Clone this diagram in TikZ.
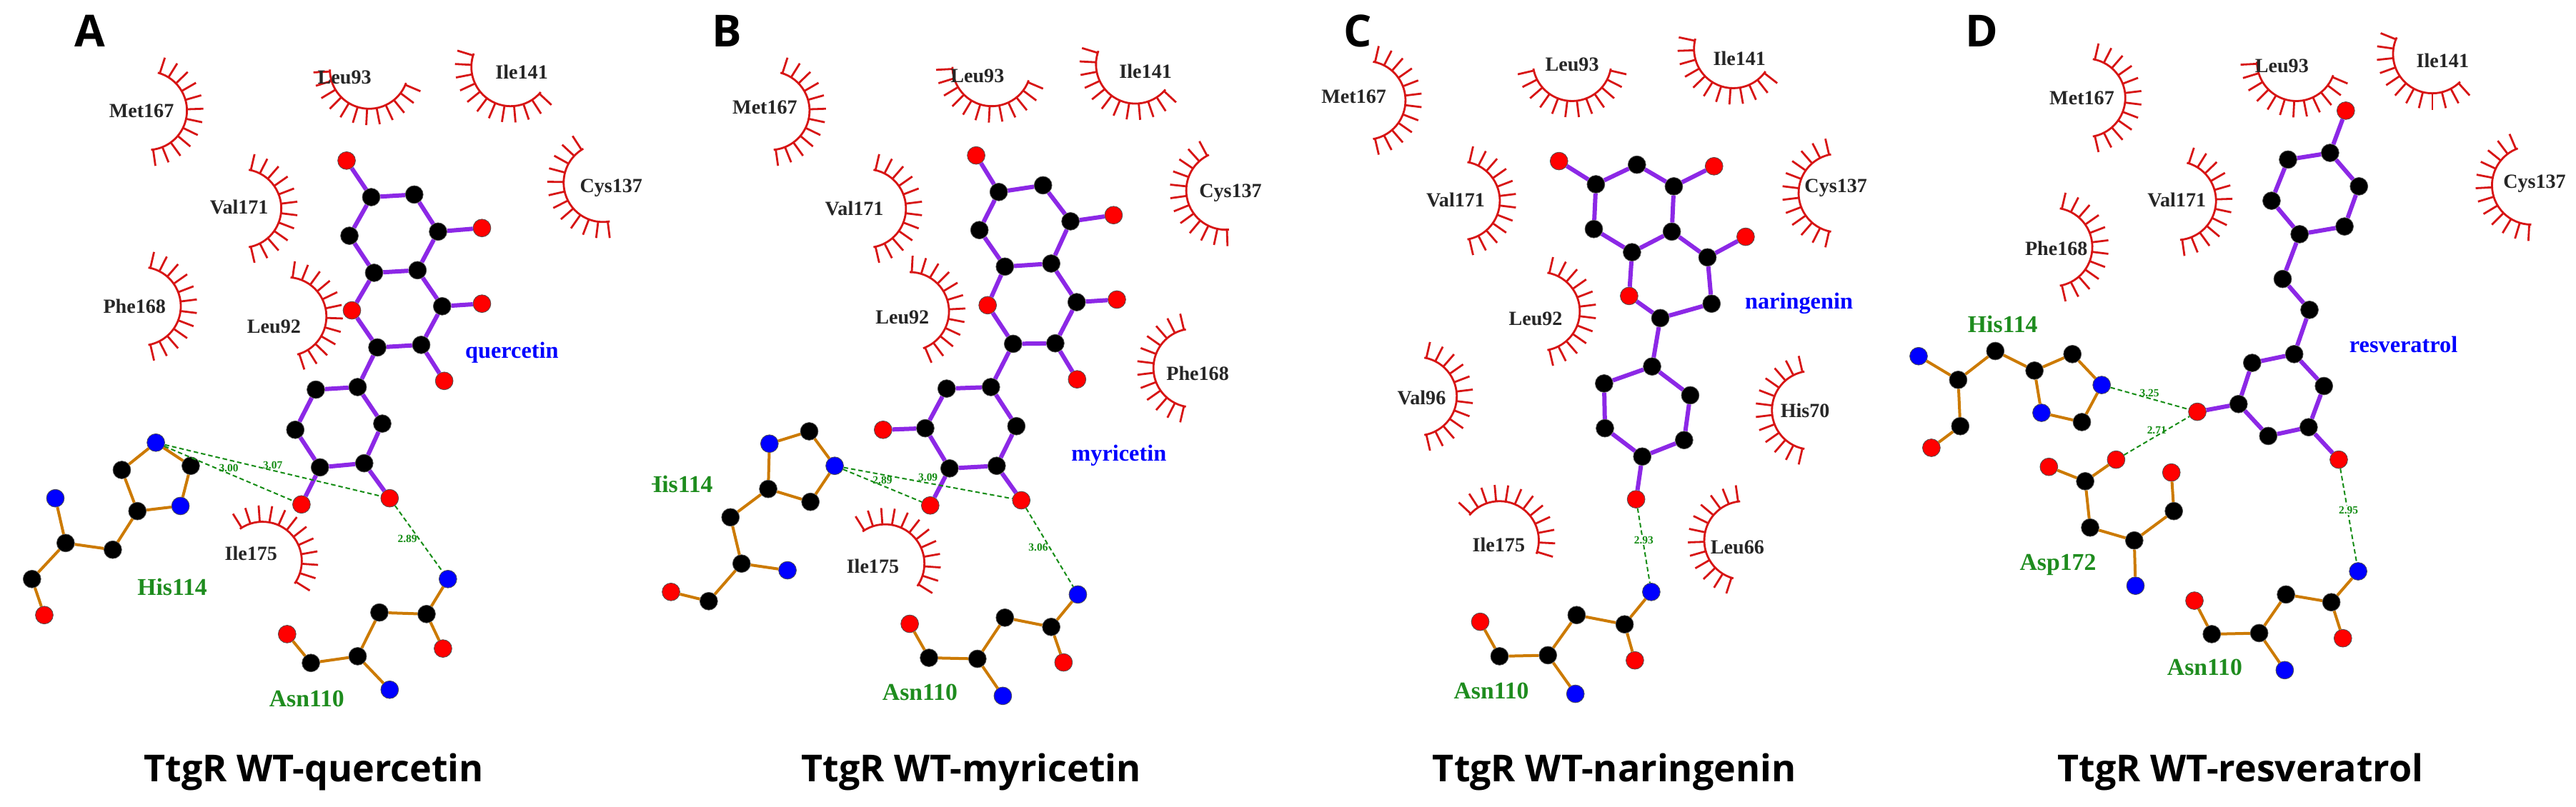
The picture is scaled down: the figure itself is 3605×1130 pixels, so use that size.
\documentclass[tikz,border=0pt]{standalone}
\usepackage{fontspec}
\setmainfont{Liberation Serif}
\newfontfamily\ttlfont{Open Sans}
\begin{document}
\begin{tikzpicture}[x=0.25mm,y=-0.25mm,
  atom/.style={circle,draw=black!70,line width=0.2mm,minimum size=6.2mm,inner sep=0pt},
  C/.style={atom,fill=black},
  O/.style={atom,fill=red},
  N/.style={atom,fill=blue},
  lig/.style={line width=1.5mm,draw={rgb,255:red,140;green,40;blue,230}},
  res/.style={line width=1mm,draw={rgb,255:red,204;green,122;blue,0}},
  hb/.style={line width=0.5mm,dashed,draw={rgb,255:red,20;green,140;blue,20},dash pattern=on 1.6mm off 1mm},
  dist/.style={font=\bfseries\fontsize{11}{11}\selectfont,text={rgb,255:red,20;green,140;blue,20},inner sep=1pt,above},
  eyec/.style={line width=0.7mm,draw={rgb,255:red,215;green,20;blue,20}},
  rlab/.style={font=\bfseries\fontsize{20}{20}\selectfont,text=black!85},
  glab/.style={font=\bfseries\fontsize{24}{24}\selectfont,text={rgb,255:red,30;green,140;blue,30}},
  blab/.style={font=\bfseries\fontsize{23}{23}\selectfont,text=blue},
  ttl/.style={font=\ttlfont\bfseries\fontsize{37}{37}\selectfont},
  plab/.style={font=\ttlfont\bfseries\fontsize{44}{44}\selectfont}]
\newcommand\at[3]{\node[#2] (#1) at #3 {};}
\newcommand\eye[2]{\path #1 coordinate (ec);
  \begin{scope}[reset cm,shift={(ec)}]
  \draw[eyec] (#2-80:55) arc[start angle=#2-80,end angle=#2+80,radius=55];
  \foreach \a in {-77,-63,...,77} \draw[eyec] (#2+\a:55) -- (#2+\a:78);
  \end{scope}}
\useasboundingbox[fill=white] (0,0) rectangle (3605,1130);
% ================= A =================
\begin{scope}[shift={(0,0)},xscale=0.574,yscale=0.7207]
\node[plab] (tA) at (220,60) {A};
\node[ttl] (ttA) at (765,1500) {TtgR WT-quercetin};
\eye{(360,215)}{5}\node[rlab] (aMet) at (345,215) {Met167};
\eye{(900,135)}{100}\node[rlab] (aL93) at (840,150) {Leu93};
\eye{(1245,130)}{120}\node[rlab] (aI141) at (1272,140) {Ile141};
\eye{(1470,355)}{160}\node[rlab] (aC137) at (1490,365) {Cys137};
\eye{(590,405)}{0}\node[rlab] (aV171) at (583,403) {Val171};
\eye{(345,595)}{0}\node[rlab] (aF168) at (328,595) {Phe168};
\eye{(700,615)}{-5}\node[rlab] (aL92) at (668,635) {Leu92};
\eye{(640,1090)}{-45}\node[rlab] (aI175) at (612,1075) {Ile175};
\at{aO1}{O}{(845,312)}\at{aC1}{C}{(905,383)}\at{aC2}{C}{(1010,378)}\at{aC3}{C}{(1068,450)}
\at{aO2}{O}{(1175,443)}\at{aC4}{C}{(852,458)}\at{aC5}{C}{(912,530)}\at{aC6}{C}{(1018,525)}
\at{aO3}{O}{(858,603)}\at{aC7}{C}{(1078,595)}\at{aO4}{O}{(1175,590)}\at{aC8}{C}{(920,675)}
\at{aC9}{C}{(1027,670)}\at{aO5}{O}{(1083,740)}\at{aC10}{C}{(872,752)}\at{aC11}{C}{(770,757)}
\at{aC12}{C}{(720,835)}\at{aC13}{C}{(932,823)}\at{aC14}{C}{(780,908)}\at{aC15}{C}{(888,900)}
\at{aO6}{O}{(735,980)}\at{aO7}{O}{(950,968)}
\draw[lig] (aO1)--(aC1)--(aC2)--(aC3)--(aO2) (aC1)--(aC4)--(aC5)--(aC6)--(aC3) (aC5)--(aO3)--(aC8)--(aC9)--(aC7)--(aC6)
 (aC7)--(aO4) (aC9)--(aO5) (aC8)--(aC10)--(aC11)--(aC12)--(aC14)--(aC15)--(aC13)--(aC10) (aC14)--(aO6) (aC15)--(aO7);
\at{aHN1}{N}{(380,860)}\at{aHC1}{C}{(465,905)}\at{aHN2}{N}{(440,983)}\at{aHC2}{C}{(335,993)}\at{aHC3}{C}{(297,913)}
\at{aHC4}{C}{(275,1068)}\at{aHCa}{C}{(160,1055)}\at{aHN}{N}{(135,968)}\at{aHC5}{C}{(78,1125)}\at{aHO}{O}{(108,1195)}
\draw[res] (aHN1)--(aHC1)--(aHN2)--(aHC2)--(aHC3)--(aHN1) (aHC2)--(aHC4)--(aHCa)--(aHN) (aHCa)--(aHC5)--(aHO);
\at{aAN}{N}{(1092,1125)}\at{aAC1}{C}{(1040,1193)}\at{aAO}{O}{(1080,1260)}\at{aAC2}{C}{(925,1190)}
\at{aACa}{C}{(872,1275)}\at{aAN2}{N}{(950,1340)}\at{aAC3}{C}{(758,1288)}\at{aAO2}{O}{(700,1232)}
\draw[res] (aAN)--(aAC1)--(aAC2)--(aACa)--(aAC3)--(aAO2) (aAC1)--(aAO) (aACa)--(aAN2);
\draw[hb] (aHN1)--node[dist]{3.00}(aO6);
\draw[hb] (aHN1)--node[dist,pos=0.5]{3.07}(aO7);
\draw[hb] (aO7)--node[dist,left]{2.89}(aAN);
\node[glab] (aHl) at (420,1140) {His114};
\node[glab] (aAl) at (748,1357) {Asn110};
\node[blab] (aLl) at (1248,685) {quercetin};
\end{scope}
% ================= B =================
\begin{scope}[shift={(900,0)},xscale=0.574,yscale=0.7207]
\clip (22,0) rectangle (1568,1568);
\node[plab] (tB) at (205,60) {B};
\node[ttl] (ttB) at (800,1500) {TtgR WT-myricetin};
\eye{(310,215)}{5}\node[rlab] (bMet) at (297,208) {Met167};
\eye{(850,130)}{100}\node[rlab] (bL93) at (815,148) {Leu93};
\eye{(1200,125)}{120}\node[rlab] (bI141) at (1225,138) {Ile141};
\eye{(1420,370)}{165}\node[rlab] (bC137) at (1432,375) {Cys137};
\eye{(545,405)}{0}\node[rlab] (bV171) at (515,405) {Val171};
\eye{(650,605)}{-10}\node[rlab] (bL92) at (632,617) {Leu92};
\eye{(1340,715)}{180}\node[rlab] (bF168) at (1352,725) {Phe168};
\eye{(590,1095)}{-45}\node[rlab] (bI175) at (560,1100) {Ile175};
\at{bO1}{O}{(812,302)}\at{bC1}{C}{(867,373)}\at{bC2}{C}{(975,360)}\at{bC3}{C}{(1042,430)}
\at{bO2}{O}{(1147,418)}\at{bC4}{C}{(820,447)}\at{bC5}{C}{(882,518)}\at{bC6}{C}{(995,512)}
\at{bO3}{O}{(840,593)}\at{bC7}{C}{(1057,587)}\at{bO4}{O}{(1155,582)}\at{bC8}{C}{(902,668)}
\at{bC9}{C}{(1005,667)}\at{bO5}{O}{(1058,737)}\at{bC10}{C}{(848,752)}\at{bC11}{C}{(740,755)}
\at{bC12}{C}{(688,832)}\at{bO6}{O}{(585,835)}\at{bC13}{C}{(910,828)}\at{bC14}{C}{(747,910)}
\at{bC15}{C}{(862,905)}\at{bO7}{O}{(700,982)}\at{bO8}{O}{(922,972)}
\draw[lig] (bO1)--(bC1)--(bC2)--(bC3)--(bO2) (bC1)--(bC4)--(bC5)--(bC6)--(bC3) (bC5)--(bO3)--(bC8)--(bC9)--(bC7)--(bC6)
 (bC7)--(bO4) (bC9)--(bO5) (bC8)--(bC10)--(bC11)--(bC12)--(bC14)--(bC15)--(bC13)--(bC10) (bC12)--(bO6) (bC14)--(bO7) (bC15)--(bO8);
\at{bHN1}{N}{(467,905)}\at{bHC1}{C}{(405,838)}\at{bHN2}{N}{(308,862)}\at{bHC2}{C}{(305,950)}\at{bHC3}{C}{(408,975)}
\at{bHC4}{C}{(213,1005)}\at{bHCa}{C}{(240,1095)}\at{bHN}{N}{(352,1108)}\at{bHC5}{C}{(160,1168)}\at{bHO}{O}{(68,1150)}
\draw[res] (bHN1)--(bHC1)--(bHN2)--(bHC2)--(bHC3)--(bHN1) (bHC2)--(bHC4)--(bHCa)--(bHN) (bHCa)--(bHC5)--(bHO);
\at{bAN}{N}{(1060,1155)}\at{bAC1}{C}{(995,1218)}\at{bAO}{O}{(1025,1287)}\at{bAC2}{C}{(882,1200)}
\at{bACa}{C}{(815,1280)}\at{bAN2}{N}{(877,1352)}\at{bAC3}{C}{(697,1278)}\at{bAO2}{O}{(650,1212)}
\draw[res] (bAN)--(bAC1)--(bAC2)--(bACa)--(bAC3)--(bAO2) (bAC1)--(bAO) (bACa)--(bAN2);
\draw[hb] (bHN1)--node[dist]{2.89}(bO7);
\draw[hb] (bHN1)--node[dist]{3.09}(bO8);
\draw[hb] (bO8)--node[dist,left]{3.06}(bAN);
\node[glab] (bHl) at (85,940) {His114};
\node[glab] (bAl) at (675,1345) {Asn110};
\node[blab] (bLl) at (1160,885) {myricetin};
\end{scope}
% ================= C =================
\begin{scope}[shift={(1800,0)},xscale=0.574,yscale=0.7207]
\node[plab] (tC) at (175,60) {C};
\node[ttl] (ttC) at (800,1500) {TtgR WT-naringenin};
\eye{(195,195)}{0}\node[rlab] (cMet) at (165,188) {Met167};
\eye{(697,120)}{90}\node[rlab] (cL93) at (697,125) {Leu93};
\eye{(1090,95)}{115}\node[rlab] (cI141) at (1105,113) {Ile141};
\eye{(1345,375)}{180}\node[rlab] (cC137) at (1340,365) {Cys137};
\eye{(425,390)}{0}\node[rlab] (cV171) at (413,388) {Val171};
\eye{(620,605)}{0}\node[rlab] (cL92) at (608,620) {Leu92};
\eye{(320,770)}{0}\node[rlab] (cV96) at (330,773) {Val96};
\eye{(1280,797)}{180}\node[rlab] (cH70) at (1265,798) {His70};
\eye{(520,1050)}{-60}\node[rlab] (cI175) at (518,1058) {Ile175};
\eye{(1115,1050)}{185}\node[rlab] (cL66) at (1100,1063) {Leu66};
\at{cO1}{O}{(665,313)}\at{cC1}{C}{(755,358)}\at{cC2}{C}{(855,320)}\at{cC3}{C}{(945,362)}
\at{cO2}{O}{(1043,323)}\at{cC4}{C}{(750,445)}\at{cC5}{C}{(843,490)}\at{cC6}{C}{(940,450)}
\at{cC7}{C}{(1027,500)}\at{cO3}{O}{(1120,460)}\at{cO4}{O}{(836,575)}\at{cC8}{C}{(1037,590)}
\at{cC9}{C}{(912,618)}\at{cC10}{C}{(892,712)}\at{cC11}{C}{(775,745)}\at{cC12}{C}{(985,768)}
\at{cC13}{C}{(777,832)}\at{cC14}{C}{(970,855)}\at{cC15}{C}{(868,887)}\at{cO5}{O}{(853,970)}
\draw[lig] (cO1)--(cC1)--(cC2)--(cC3)--(cO2) (cC1)--(cC4)--(cC5)--(cC6)--(cC3) (cC6)--(cC7)--(cO3) (cC5)--(cO4)--(cC9)--(cC8)--(cC7)
 (cC9)--(cC10)--(cC11)--(cC13)--(cC15)--(cC14)--(cC12)--(cC10) (cC15)--(cO5);
\at{cAN}{N}{(890,1150)}\at{cAC1}{C}{(825,1213)}\at{cAO}{O}{(850,1283)}\at{cAC2}{C}{(708,1195)}
\at{cACa}{C}{(638,1273)}\at{cAN2}{N}{(705,1348)}\at{cAC3}{C}{(520,1275)}\at{cAO2}{O}{(473,1208)}
\draw[res] (cAN)--(cAC1)--(cAC2)--(cACa)--(cAC3)--(cAO2) (cAC1)--(cAO) (cACa)--(cAN2);
\draw[hb] (cO5)--node[dist,fill=white]{2.93}(cAN);
\node[glab] (cAl) at (500,1342) {Asn110};
\node[blab] (cLl) at (1250,590) {naringenin};
\end{scope}
% ================= D =================
\begin{scope}[shift={(2700,0)},xscale=0.577,yscale=0.7207]
\node[plab] (tD) at (128,60) {D};
\node[ttl] (ttD) at (755,1500) {TtgR WT-resveratrol};
\eye{(380,190)}{0}\node[rlab] (dMet) at (370,190) {Met167};
\eye{(890,120)}{100}\node[rlab] (dL93) at (855,128) {Leu93};
\eye{(1220,105)}{125}\node[rlab] (dI141) at (1245,118) {Ile141};
\eye{(1460,360)}{170}\node[rlab] (dC137) at (1468,357) {Cys137};
\eye{(600,390)}{5}\node[rlab] (dV171) at (600,388) {Val171};
\eye{(300,480)}{0}\node[rlab] (dF168) at (308,483) {Phe168};
\at{dO1}{O}{(1010,215)}\at{dC1}{C}{(972,297)}\at{dC2}{C}{(870,310)}\at{dC3}{C}{(1042,362)}
\at{dC4}{C}{(830,390)}\at{dC5}{C}{(1007,440)}\at{dC6}{C}{(898,455)}\at{dC7}{C}{(857,542)}
\at{dC8}{C}{(922,602)}\at{dC9}{C}{(885,688)}\at{dC10}{C}{(783,705)}\at{dC11}{C}{(957,750)}
\at{dC12}{C}{(750,785)}\at{dO2}{O}{(650,800)}\at{dC13}{C}{(920,830)}\at{dC14}{C}{(822,847)}\at{dO3}{O}{(993,893)}
\draw[lig] (dO1)--(dC1)--(dC2)--(dC4)--(dC6)--(dC5)--(dC3)--(dC1) (dC6)--(dC7)--(dC8)--(dC9)--(dC10)--(dC12)--(dC14)--(dC13)--(dC11)--(dC9)
 (dC12)--(dO2) (dC13)--(dO3);
\at{dHC1}{C}{(255,720)}\at{dHC2}{C}{(347,688)}\at{dHN1}{N}{(418,748)}\at{dHC3}{C}{(370,820)}\at{dHN2}{N}{(272,802)}
\at{dHC4}{C}{(160,682)}\at{dHCa}{C}{(70,738)}\at{dHN}{N}{(-26,692)}\at{dHC5}{C}{(75,828)}\at{dHO}{O}{(5,870)}
\draw[res] (dHC1)--(dHC2)--(dHN1)--(dHC3)--(dHN2)--(dHC1) (dHC1)--(dHC4)--(dHCa)--(dHN) (dHCa)--(dHC5)--(dHO);
\at{dDO1}{O}{(290,907)}\at{dDC1}{C}{(378,935)}\at{dDO2}{O}{(453,893)}\at{dDC2}{C}{(390,1025)}
\at{dDCa}{C}{(497,1050)}\at{dDN}{N}{(500,1138)}\at{dDC3}{C}{(593,993)}\at{dDO3}{O}{(587,918)}
\draw[res] (dDO1)--(dDC1)--(dDO2) (dDC1)--(dDC2)--(dDCa)--(dDN) (dDCa)--(dDC3)--(dDO3);
\at{dAN}{N}{(1040,1110)}\at{dAC1}{C}{(975,1170)}\at{dAO}{O}{(1003,1240)}\at{dAC2}{C}{(865,1155)}
\at{dACa}{C}{(800,1230)}\at{dAN2}{N}{(862,1302)}\at{dAC3}{C}{(685,1232)}\at{dAO2}{O}{(643,1167)}
\draw[res] (dAN)--(dAC1)--(dAC2)--(dACa)--(dAC3)--(dAO2) (dAC1)--(dAO) (dACa)--(dAN2);
\draw[hb] (dHN1)--node[dist]{3.25}(dO2);
\draw[hb] (dDO2)--node[dist]{2.71}(dO2);
\draw[hb] (dO3)--node[dist,fill=white]{2.95}(dAN);
\node[glab] (dHl) at (178,630) {His114};
\node[glab] (dDl) at (312,1097) {Asp172};
\node[glab] (dAl) at (668,1297) {Asn110};
\node[blab] (dLl) at (1150,670) {resveratrol};
\end{scope}
\end{tikzpicture}
\end{document}
